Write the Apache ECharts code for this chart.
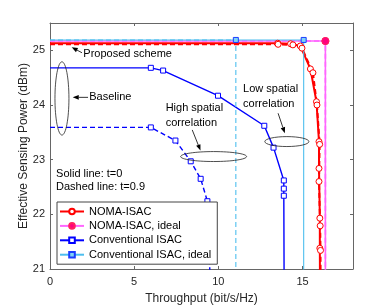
<!DOCTYPE html>
<html><head><meta charset="utf-8">
<script src="https://cdn.jsdelivr.net/npm/echarts@6/dist/echarts.min.js"></script>
<style>html,body{margin:0;padding:0;background:#fff}#c{width:390px;height:305px}</style>
</head><body><div id="c"></div>
<script>
// ---- data ----
const xTicks = [0, 5, 10, 15];
const yTicks = [21, 22, 23, 24, 25];
const nomaSolid = [[0,25.13],[13.53,25.13],[14.29,25.12],[14.87,25.08],[15.47,24.66],[15.83,24.06],[15.98,23.33],[15.98,22.84],[16.03,21.93],[16.03,21.38],[16.04,20.5]];
const nomaDashed = [[0,25.11],[13.55,25.11],[14.43,25.10],[14.97,25.04],[15.62,24.59],[15.86,24.00],[16.02,23.28],[15.98,22.60],[16.05,21.79],[16.07,21.34],[16.08,20.5]];
const nomaIdealSolid = [[0,25.17],[16.36,25.17],[16.36,20.5]];
const nomaIdealDashed = [[0,25.17],[16.36,25.17],[16.36,20.5]];
const convSolid = [[0,24.68],[5.99,24.68],[6.72,24.63],[9.98,24.17],[12.73,23.62],[13.28,23.22],[13.89,22.62],[13.89,22.47],[13.89,22.34],[13.91,20.5]];
const convDashed = [[0,23.59],[5.99,23.59],[7.45,23.35],[8.36,22.97],[8.95,22.65],[9.35,22.24],[9.55,20.5]];
const convIdealSolid = [[0,25.19],[15.07,25.19],[15.07,20.5]];
const convIdealDashed = [[0,25.19],[11.04,25.19],[11.04,20.5]];
const names = ['NOMA-ISAC', 'NOMA-ISAC, ideal', 'Conventional ISAC', 'Conventional ISAC, ideal'];

// annotations (data coordinates)
const texts = [
  {t:'Proposed scheme', p:[1.98,24.93]},
  {t:'Baseline', p:[2.33,24.14]},
  {t:'High spatial', p:[6.87,23.95]},
  {t:'correlation', p:[6.87,23.68]},
  {t:'Low spatial', p:[11.47,24.29]},
  {t:'correlation', p:[11.47,24.025]},
  {t:'Solid line: t=0', p:[0.36,22.74]},
  {t:'Dashed line: t=0.9', p:[0.36,22.50]}
];
const arrows = [
  {from:[1.90,24.956], to:[1.29,25.055]},
  {from:[2.26,24.14], to:[1.35,24.14]},
  {from:[8.45,23.544], to:[8.94,23.166]},
  {from:[13.55,23.849], to:[13.95,23.484]}
];
const ellipses = [
  {c:[0.71,24.12], r:[0.415,0.67]},
  {c:[9.72,23.057], r:[1.96,0.091]},
  {c:[14.07,23.331], r:[1.31,0.091]}
];

const FONT = '"Liberation Sans", Arial, Helvetica, sans-serif';
const AX = '#666';
const chart = echarts.init(document.getElementById('c'), null, {renderer:'canvas'});

function pts(arr){ return arr.map((p,i)=> (i===0||i===arr.length-1) ? {value:p, symbol:'none'} : p); }

function mk(name, data, color, width, dashed, symbol, size, fill, border){
  return {
    type:'line', name:name, data:pts(data), showAllSymbol:true,
    symbol:symbol, symbolSize:size,
    lineStyle:{color:color, width:width, type: dashed ? [5,3] : 'solid'},
    itemStyle:{color:fill, borderColor:border, borderWidth:1},
    emphasis:{disabled:true}, animation:false, clip:true
  };
}

const option = {
  backgroundColor:'#fff',
  animation:false,
  grid:{left:50, right:37, top:23, bottom:36, containLabel:false, outerBoundsMode:'none'},
  xAxis:[
    {type:'value', position:'bottom', min:0, max:18,
     axisLine:{onZero:false, lineStyle:{color:AX}},
     axisTick:{inside:true, length:3, customValues:xTicks, lineStyle:{color:AX}},
     axisLabel:{customValues:xTicks, color:'#262626', fontSize:11, fontFamily:FONT, margin:7},
     splitLine:{show:false},
     name:'Throughput (bit/s/Hz)', nameLocation:'middle', nameGap:24, nameMoveOverlap:false,
     nameTextStyle:{color:'#262626', fontSize:12, fontFamily:FONT}},
    {type:'value', position:'top', min:0, max:18,
     axisLine:{onZero:false, lineStyle:{color:AX}},
     axisTick:{inside:true, length:3, customValues:xTicks, lineStyle:{color:AX}},
     axisLabel:{show:false}, splitLine:{show:false}}
  ],
  yAxis:[
    {type:'value', position:'left', min:21, max:25.5,
     axisLine:{show:true, onZero:false, lineStyle:{color:AX}},
     axisTick:{show:true, inside:true, length:3, customValues:yTicks, lineStyle:{color:AX}},
     axisLabel:{customValues:yTicks, color:'#262626', fontSize:11, fontFamily:FONT, margin:5},
     splitLine:{show:false},
     name:'Effective Sensing Power (dBm)', nameLocation:'middle', nameGap:20, nameRotate:90, nameMoveOverlap:false,
     nameTextStyle:{color:'#262626', fontSize:12, fontFamily:FONT}},
    {type:'value', position:'right', min:21, max:25.5,
     axisLine:{show:true, onZero:false, lineStyle:{color:AX}},
     axisTick:{show:true, inside:true, length:3, customValues:yTicks, lineStyle:{color:AX}},
     axisLabel:{show:false}, splitLine:{show:false}}
  ],
  legend:{
    data:names, orient:'vertical', left:57, top:202,
    itemWidth:24, itemHeight:7, itemGap:1.4,
    padding:[3,6,3,2],
    backgroundColor:'#fff', borderColor:'#444', borderWidth:1, borderRadius:0,
    textStyle:{fontSize:11, fontFamily:FONT, color:'#000', lineHeight:13},
    selectedMode:false
  },
  series:[
    mk(names[0], nomaSolid, '#ff0000', 2, false, 'circle', 6, '#fff', '#ff0000'),
    mk(names[0], nomaDashed, '#ff0000', 2, true, 'circle', 6, '#fff', '#ff0000'),
    mk(names[1], nomaIdealSolid, '#ff66ff', 1.6, false, 'circle', 7, '#ff0080', '#ff2060'),
    mk(names[1], nomaIdealDashed, '#ff66ff', 1.6, true, 'circle', 7, '#ff0080', '#ff2060'),
    mk(names[2], convSolid, '#0000ff', 1.4, false, 'rect', 5, '#fff', '#0000ff'),
    mk(names[2], convDashed, '#0000ff', 1.4, true, 'rect', 5, '#fff', '#0000ff'),
    mk(names[3], convIdealSolid, '#4dbeee', 1.1, false, 'rect', 5, '#7fd3f5', '#1a3cff'),
    mk(names[3], convIdealDashed, '#4dbeee', 1.1, true, 'rect', 5, '#7fd3f5', '#1a3cff')
  ]
};
chart.setOption(option);

function px(p){ return chart.convertToPixel({gridIndex:0}, p); }
const g = [];
texts.forEach(o=>{
  const q = px(o.p);
  g.push({type:'text', x:q[0], y:q[1], z:100,
    style:{text:o.t, fill:'#000', font:'11px '+FONT, textAlign:'left', textVerticalAlign:'middle'}});
});
arrows.forEach(a=>{
  const f = px(a.from), t = px(a.to);
  const dx = t[0]-f[0], dy = t[1]-f[1], L = Math.hypot(dx,dy);
  const ux = dx/L, uy = dy/L, hl = 6, hw = 2.3;
  const bx = t[0]-ux*hl, by = t[1]-uy*hl;
  g.push({type:'line', z:100, shape:{x1:f[0], y1:f[1], x2:bx, y2:by}, style:{stroke:'#000', lineWidth:0.8}});
  g.push({type:'polygon', z:100, shape:{points:[[t[0],t[1]],[bx-uy*hw,by+ux*hw],[bx+uy*hw,by-ux*hw]]}, style:{fill:'#000'}});
});
ellipses.forEach(e=>{
  const c = px(e.c), a = px([e.c[0]+e.r[0], e.c[1]+e.r[1]]);
  g.push({type:'ellipse', z:100, shape:{cx:c[0], cy:c[1], rx:Math.abs(a[0]-c[0]), ry:Math.abs(a[1]-c[1])},
    style:{fill:null, stroke:'#222', lineWidth:0.8}});
});
chart.setOption({graphic:g});
</script></body></html>
